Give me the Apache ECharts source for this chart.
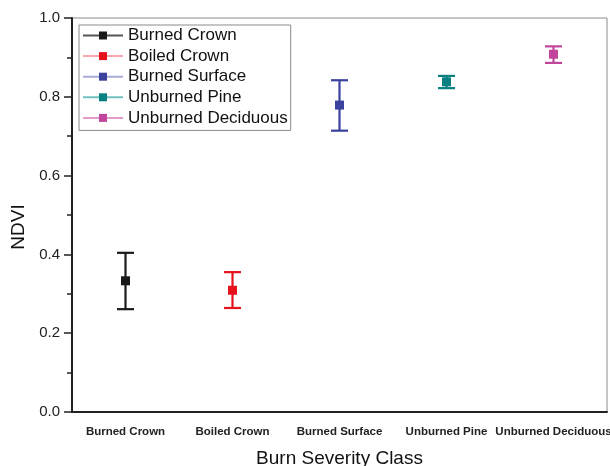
<!DOCTYPE html>
<html>
<head>
<meta charset="utf-8">
<script src="https://cdn.jsdelivr.net/npm/echarts@6/dist/echarts.min.js"></script>
<style>
  html, body { margin: 0; padding: 0; background: #fff; }
  #chart { width: 610px; height: 466px; }
</style>
</head>
<body>
<div id="chart"></div>
<script>
// Burn severity classes and their mean NDVI with error-bar bounds
const categories = ['Burned Crown', 'Boiled Crown', 'Burned Surface', 'Unburned Pine', 'Unburned Deciduous'];
const meanNdvi  = [0.333, 0.309, 0.779, 0.838, 0.908];
const lowerNdvi = [0.261, 0.264, 0.714, 0.822, 0.886];
const upperNdvi = [0.404, 0.355, 0.842, 0.853, 0.928];
const yTicks = [0, 0.2, 0.4, 0.6, 0.8, 1.0];
const colors = ['#1a1a1a', '#e5121c', '#3b429e', '#0b8080', '#c1459b'];
const legendLine = ['#555555', '#f4a6aa', '#a9abd6', '#6fc0c0', '#e19ccd'];

const FONT = '"Liberation Sans", Arial, sans-serif';

// One line series per class (a single point, so only the marker shows)
const pointSeries = categories.map((name, i) => ({
  name: name,
  type: 'line',
  symbol: 'rect',
  symbolSize: 9,
  z: 5,
  itemStyle: { color: colors[i] },
  lineStyle: { color: legendLine[i], width: 1.2 },
  data: categories.map((c, j) => (j === i ? meanNdvi[i] : null))
}));

// Vertical error bars with caps
const errorSeries = {
  type: 'custom',
  name: 'error',
  z: 4,
  renderItem: function (params, api) {
    const idx = api.value(0);
    const lo = api.coord([idx, api.value(1)]);
    const hi = api.coord([idx, api.value(2)]);
    const half = 8.5;
    const style = { stroke: colors[idx], lineWidth: 2.2, fill: null };
    return {
      type: 'group',
      children: [
        { type: 'line', shape: { x1: hi[0], y1: hi[1], x2: lo[0], y2: lo[1] }, style: style },
        { type: 'line', shape: { x1: hi[0] - half, y1: hi[1], x2: hi[0] + half, y2: hi[1] }, style: style },
        { type: 'line', shape: { x1: lo[0] - half, y1: lo[1], x2: lo[0] + half, y2: lo[1] }, style: style }
      ]
    };
  },
  encode: { x: 0, y: [1, 2] },
  data: categories.map((c, i) => [i, lowerNdvi[i], upperNdvi[i]])
};

const chart = echarts.init(document.getElementById('chart'), null, { renderer: 'canvas' });
chart.setOption({
  animation: false,
  backgroundColor: '#ffffff',
  textStyle: { fontFamily: FONT },
  grid: {
    left: 72, right: 3, top: 18, bottom: 54,
    outerBoundsMode: 'none',
    containLabel: false,
    show: true, borderColor: '#8a8a8a', borderWidth: 1, backgroundColor: 'transparent'
  },
  legend: {
    data: categories,
    orient: 'vertical',
    left: 79, top: 25,
    padding: [2, 3, 4, 3],
    itemWidth: 40, itemHeight: 10, itemGap: 3.6,
    backgroundColor: '#ffffff',
    borderColor: '#8a8a8a', borderWidth: 1, borderRadius: 0,
    textStyle: { fontFamily: FONT, fontSize: 17, color: '#111' }
  },
  xAxis: {
    type: 'category',
    data: categories,
    boundaryGap: true,
    name: 'Burn Severity Class',
    nameLocation: 'middle',
    nameGap: 37,
    nameTextStyle: { fontFamily: FONT, fontSize: 19, color: '#111' },
    axisLine: { lineStyle: { color: '#222', width: 2 } },
    axisTick: { alignWithLabel: true, length: 6, lineStyle: { color: '#222', width: 1.5 } },
    axisLabel: { fontFamily: FONT, fontSize: 11.5, fontWeight: 'bold', color: '#222', margin: 13.5, interval: 0, hideOverlap: false },
    splitLine: { show: false }
  },
  yAxis: {
    type: 'value',
    min: 0, max: 1.0, interval: 0.2,
    name: 'NDVI',
    nameLocation: 'middle',
    nameGap: 39,
    nameTextStyle: { fontFamily: FONT, fontSize: 19, color: '#111', padding: [0, 0, 0, -24] },
    axisLine: { show: true, lineStyle: { color: '#222', width: 2 } },
    axisTick: { show: true, length: 8, lineStyle: { color: '#222', width: 1.5 } },
    minorTick: { show: true, splitNumber: 2, length: 5, lineStyle: { color: '#222', width: 1.5 } },
    axisLabel: {
      fontFamily: FONT, fontSize: 15, color: '#222', margin: 12,
      formatter: v => (yTicks.some(t => Math.abs(t - v) < 1e-9) ? v.toFixed(1) : '')
    },
    splitLine: { show: false }
  },
  series: [errorSeries].concat(pointSeries)
});
</script>
</body>
</html>
